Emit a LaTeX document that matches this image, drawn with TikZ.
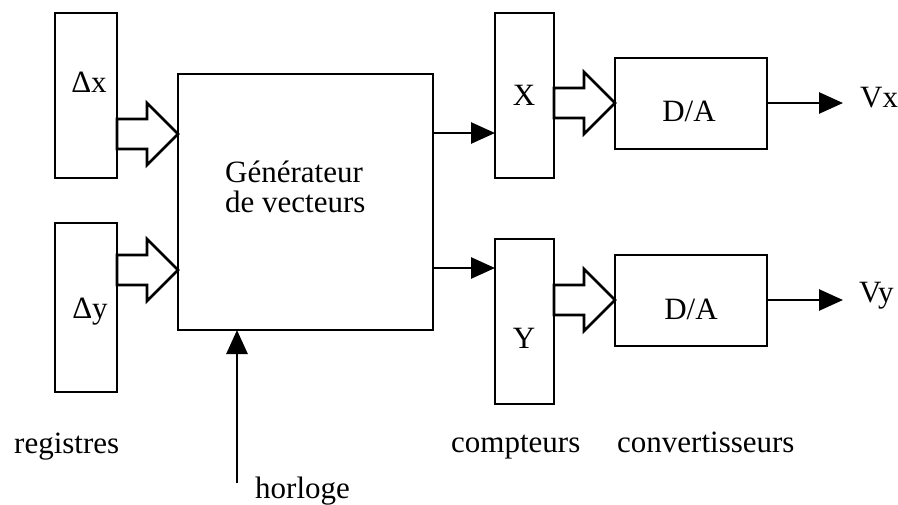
\documentclass[tikz,border=0pt]{standalone}
\usepackage{fontspec}
\setmainfont{Liberation Serif}
\usetikzlibrary{arrows.meta,calc}

\tikzset{
  blk/.style={draw, line width=2.7pt, rectangle, inner sep=0pt, outer sep=0pt},
  lbl/.style={anchor=base, inner sep=0pt, font=\fontsize{31}{32}\selectfont},
  lblw/.style={anchor=base west, inner sep=0pt, font=\fontsize{31}{32}\selectfont},
  arr/.style={line width=2.7pt, -{Triangle[length=24pt,width=21pt]}},
  fat/.style={draw, line width=2.7pt, fill=white, line join=miter},
}

% bus arrow: #1 source, #2 target, #3 vertical position of the axis
\newcommand\busarrow[3]{%
  \draw[fat] let \p1=(#1.east |- 0,#3), \p2=(#2.west |- 0,#3) in
    (\x1,\y1+15pt) -- (\x2-31pt,\y1+15pt) -- (\x2-31pt,\y1+31pt) --
    (\x2,\y1) -- (\x2-31pt,\y1-31pt) -- (\x2-31pt,\y1-15pt) --
    (\x1,\y1-15pt) -- cycle;}

\begin{document}
\begin{tikzpicture}[x=1pt,y=-1pt]
\useasboundingbox (0,0) rectangle (898,504);

% blocks
\node[blk, minimum width=62pt, minimum height=165pt] (dx) at (86,95.5) {};
\node[blk, minimum width=62pt, minimum height=169pt] (dy) at (86,307.5) {};
\node[blk, minimum width=255pt, minimum height=256pt] (gen) at (305.5,202) {};
\node[blk, minimum width=59pt, minimum height=165pt] (cx) at (524.5,95.5) {};
\node[blk, minimum width=59pt, minimum height=165pt] (cy) at (524.5,321.5) {};
\node[blk, minimum width=152pt, minimum height=91pt] (dax) at (691,103.5) {};
\node[blk, minimum width=152pt, minimum height=91pt] (day) at (691,300.5) {};

% texts inside the blocks
\node[lbl] (tdx) at (89,92) {Δx};
\node[lbl] (tdy) at (90,318) {Δy};
\node[lblw] (tgen1) at (225,182) {Générateur};
\node[lblw] (tgen2) at (225,212) {de vecteurs};
\node[lbl] (tcx) at (524,105) {X};
\node[lbl] (tcy) at (524,348) {Y};
\node[lbl] (tdax) at (689,121) {D/A};
\node[lbl] (tday) at (691,319) {D/A};

% outputs
\node[lblw] (vx) at (860,107) {Vx};
\node[lblw] (vy) at (859,302) {Vy};
\coordinate (vxend) at (843,103);
\coordinate (vyend) at (843,300);

% captions
\node[lblw] (reg) at (14,453) {registres};
\node[lblw] (cpt) at (451,452) {compteurs};
\node[lblw] (cnv) at (617,452) {convertisseurs};
\node[lblw] (hor) at (255,498) {horloge};
\coordinate (clk) at (237,483);

% bus arrows
\busarrow{dx}{gen}{134}
\busarrow{dy}{gen}{270}
\busarrow{cx}{dax}{103}
\busarrow{cy}{day}{300}

% single-line arrows
\draw[arr] (gen.east |- 0,133) -- (cx.west |- 0,133);
\draw[arr] (gen.east |- 0,268) -- (cy.west |- 0,268);
\draw[arr] (dax.east |- vxend) -- (vxend);
\draw[arr] (day.east |- vyend) -- (vyend);
\draw[arr] (clk) -- (gen.south -| clk);
\end{tikzpicture}
\end{document}
